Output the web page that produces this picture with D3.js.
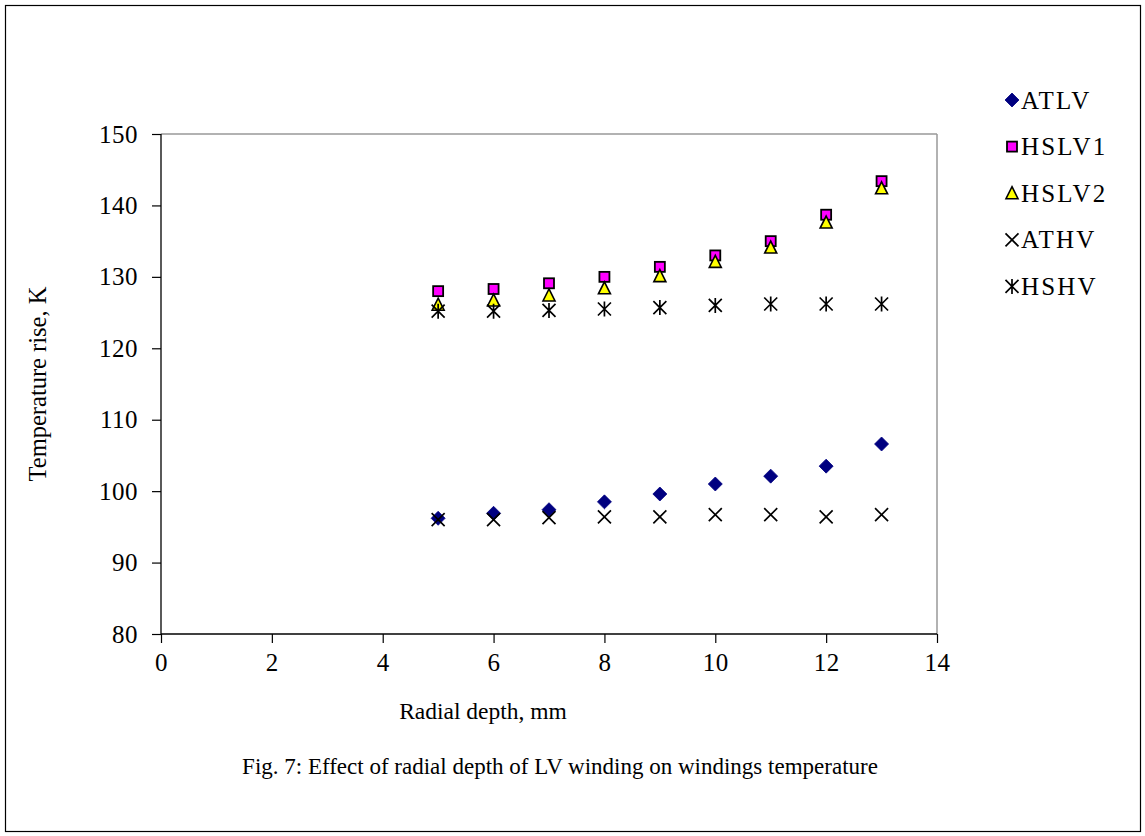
<!DOCTYPE html>
<html>
<head>
<meta charset="utf-8">
<script src="https://cdn.jsdelivr.net/npm/d3@7"></script>
<style>
  html, body { margin: 0; padding: 0; background: #fff; }
  svg { display: block; }
  text { font-family: "Liberation Serif", "DejaVu Serif", serif; fill: #000; }
</style>
</head>
<body>
<svg id="chart" width="1145" height="836"></svg>
<script>
const depths = [5, 6, 7, 8, 9, 10, 11, 12, 13];
const ATLV  = [96.2, 96.9, 97.4, 98.5, 99.6, 101.0, 102.1, 103.5, 106.6];
const HSLV1 = [128.0, 128.3, 129.1, 130.0, 131.4, 133.0, 135.0, 138.7, 143.4];
const HSLV2 = [126.1, 126.7, 127.4, 128.4, 130.1, 132.1, 134.1, 137.6, 142.4];
const ATHV  = [96.0, 96.0, 96.3, 96.4, 96.4, 96.7, 96.7, 96.4, 96.7];
const HSHV  = [125.2, 125.2, 125.3, 125.5, 125.7, 126.0, 126.2, 126.2, 126.2];
const seriesNames = ["ATLV", "HSLV1", "HSLV2", "ATHV", "HSHV"];
const xTicks = [0, 2, 4, 6, 8, 10, 12, 14];
const yTicks = [80, 90, 100, 110, 120, 130, 140, 150];
const titleText = "Fig. 7: Effect of radial depth of LV winding on windings temperature";
const xLabel = "Radial depth, mm";
const yLabel = "Temperature rise, K";

const seriesValues = { ATLV, HSLV1, HSLV2, ATHV, HSHV };

const svg = d3.select("#chart");
const W = 1145, H = 836;
const plot = { left: 161, top: 134, right: 937, bottom: 634 };

const x = d3.scaleLinear().domain([0, 14]).range([plot.left, plot.right]);
const y = d3.scaleLinear().domain([80, 150]).range([plot.bottom, plot.top]);

// outer frame
svg.append("rect").attr("x", 5.5).attr("y", 5.5).attr("width", W - 10).attr("height", H - 10)
  .attr("fill", "#fff").attr("stroke", "#000").attr("stroke-width", 1.2);

// plot area: top & right border in grey
svg.append("line").attr("x1", plot.left).attr("x2", plot.right).attr("y1", plot.top).attr("y2", plot.top)
  .attr("stroke", "#999").attr("stroke-width", 1.5);
svg.append("line").attr("x1", plot.right).attr("x2", plot.right).attr("y1", plot.top).attr("y2", plot.bottom)
  .attr("stroke", "#999").attr("stroke-width", 1.5);

// axes
const xAxis = d3.axisBottom(x).tickValues(xTicks).tickSize(9).tickPadding(10).tickFormat(d3.format("d"));
const yAxis = d3.axisLeft(y).tickValues(yTicks).tickSize(9).tickPadding(14).tickFormat(d3.format("d"));

const gx = svg.append("g").attr("transform", `translate(0,${plot.bottom})`).call(xAxis);
const gy = svg.append("g").attr("transform", `translate(${plot.left},0)`).call(yAxis);
[gx, gy].forEach(g => {
  g.attr("font-size", null).attr("font-family", null);
  g.select(".domain").attr("stroke", "#000").attr("stroke-width", 1.3);
  g.selectAll(".tick line").attr("stroke", "#000").attr("stroke-width", 1.2);
  g.selectAll(".tick text").style("font-size", "25px").style("letter-spacing", "0.5px").attr("fill", "#000");
});
gx.select(".domain").attr("d", `M${plot.left},0H${plot.right}`);
gy.select(".domain").attr("d", `M0,${plot.bottom}V${plot.top}`);

// axis titles
svg.append("text").attr("x", 483).attr("y", 719)
  .attr("text-anchor", "middle").style("font-size", "23.5px").text(xLabel);
svg.append("text").attr("transform", `translate(46,${(plot.top + plot.bottom) / 2}) rotate(-90)`)
  .attr("text-anchor", "middle").style("font-size", "24.5px").text(yLabel);

// figure caption
svg.append("text").attr("x", 560).attr("y", 774)
  .attr("text-anchor", "middle").style("font-size", "23px").text(titleText);

// markers
function drawMarker(g, name, cx, cy) {
  if (name === "ATLV") {
    const r = 7;
    g.append("path").attr("d", `M${cx},${cy - r}L${cx + r},${cy}L${cx},${cy + r}L${cx - r},${cy}Z`)
      .attr("fill", "#000080").attr("stroke", "#000080").attr("stroke-width", 0.8);
  } else if (name === "HSLV1") {
    const s = 10;
    g.append("rect").attr("x", cx - s / 2).attr("y", cy - s / 2).attr("width", s).attr("height", s)
      .attr("fill", "#FF00FF").attr("stroke", "#000").attr("stroke-width", 1.8);
  } else if (name === "HSLV2") {
    const h = 11, w = 12;
    g.append("path").attr("d", `M${cx},${cy - h / 2 - 1}L${cx + w / 2},${cy + h / 2}L${cx - w / 2},${cy + h / 2}Z`)
      .attr("fill", "#FFFF00").attr("stroke", "#000").attr("stroke-width", 1.6).attr("stroke-linejoin", "miter");
  } else if (name === "ATHV") {
    const r = 6.5;
    g.append("path").attr("d", `M${cx - r},${cy - r}L${cx + r},${cy + r}M${cx - r},${cy + r}L${cx + r},${cy - r}`)
      .attr("stroke", "#000").attr("stroke-width", 1.7).attr("fill", "none");
  } else if (name === "HSHV") {
    const r = 6.5;
    g.append("path").attr("d", `M${cx - r},${cy - r}L${cx + r},${cy + r}M${cx - r},${cy + r}L${cx + r},${cy - r}M${cx},${cy - r - 1}L${cx},${cy + r + 1}`)
      .attr("stroke", "#000").attr("stroke-width", 1.7).attr("fill", "none");
  }
}

seriesNames.forEach(name => {
  const g = svg.append("g").attr("class", "series-" + name);
  seriesValues[name].forEach((v, i) => drawMarker(g, name, x(depths[i]), y(v)));
});

// legend
const legY0 = 100, legDy = 46.6;
seriesNames.forEach((name, i) => {
  const g = svg.append("g").attr("class", "legend");
  const cy = legY0 + i * legDy;
  drawMarker(g, name, 1012, cy);
  g.append("text").attr("x", 1021).attr("y", cy + 8.5)
    .style("font-size", "25px").style("letter-spacing", "2.2px").text(name);
});
</script>
</body>
</html>
